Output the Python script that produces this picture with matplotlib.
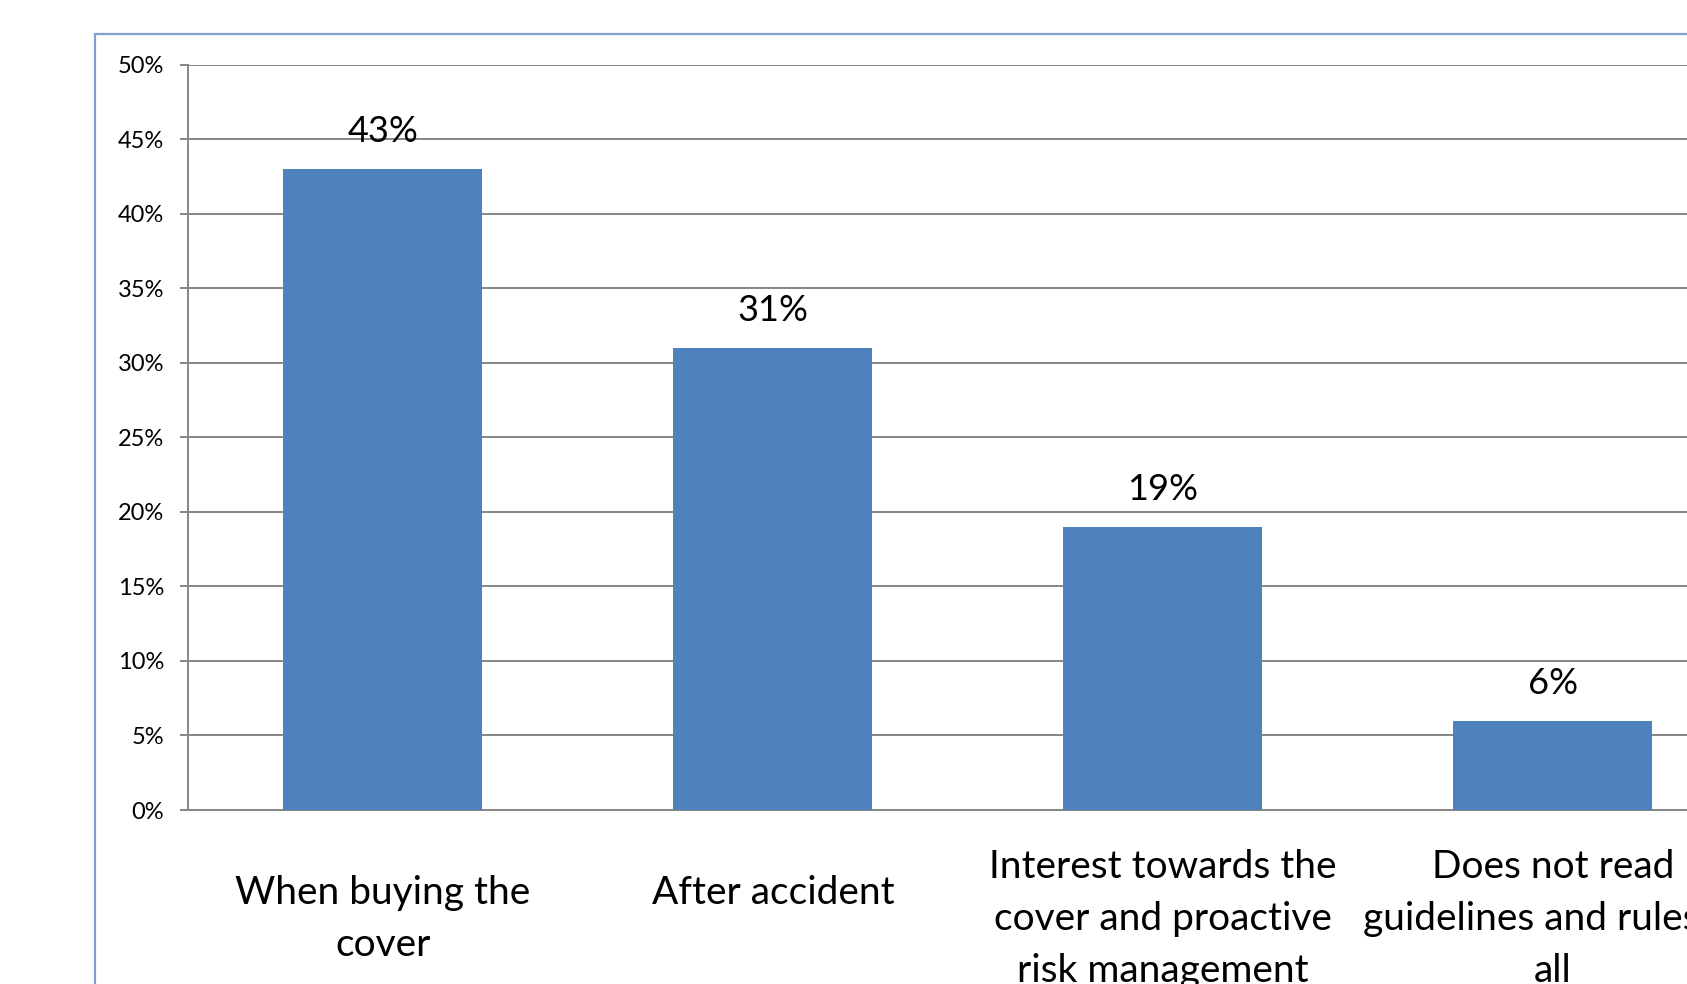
import matplotlib.pyplot as plt
from matplotlib.patches import Rectangle
from matplotlib.ticker import PercentFormatter

# Survey answers and their shares
categories = [
    "When buying the\ncover",
    "After accident\n",
    "Interest towards the\ncover and proactive\nrisk management",
    "Does not read\nguidelines and rules at\nall",
]
shares = [43, 31, 19, 6]

plt.rcParams['font.family'] = ['Lato', 'DejaVu Sans']

fig = plt.figure(figsize=(16.87, 9.84), dpi=100)

# chart area frame runs off the right and bottom edges
fig.patches.append(Rectangle((0.0561, -0.2), 1.2, 1.165, transform=fig.transFigure,
                             fill=False, edgecolor='#7F9FD0', linewidth=1.6))

ax = fig.add_axes([0.1114, 0.1768, 0.9247, 0.7576])
x = range(len(categories))
bars = ax.bar(x, shares, width=0.51, color='#4F81BD', zorder=3)

ax.set_xlim(-0.5, 3.5)
ax.set_ylim(0, 50)
ax.set_yticks(range(0, 51, 5))
ax.yaxis.set_major_formatter(PercentFormatter(decimals=0))
ax.grid(axis='y', color='#868686', linewidth=1.4, zorder=0)
ax.set_axisbelow(True)

for side in ['top', 'right']:
    ax.spines[side].set_visible(False)
for side in ['left', 'bottom']:
    ax.spines[side].set_color('#868686')
    ax.spines[side].set_linewidth(1.4)

ax.tick_params(axis='y', length=6, width=1.4, color='#868686', pad=11,
               labelsize=17, labelcolor='black')
ax.tick_params(axis='x', length=0, labelbottom=False)

# value labels above bars
for rect, v in zip(bars, shares):
    ax.annotate(f"{v}%", (rect.get_x() + rect.get_width() / 2, v),
                xytext=(0, 27), textcoords='offset points',
                ha='center', va='center', fontsize=26)

# wrapped category names under the axis
for i, name in zip(x, categories):
    ax.text(i, -0.146, name, transform=ax.get_xaxis_transform(),
            ha='center', va='center', fontsize=28, linespacing=1.55,
            clip_on=False)

fig.savefig('out.png', dpi=100)
